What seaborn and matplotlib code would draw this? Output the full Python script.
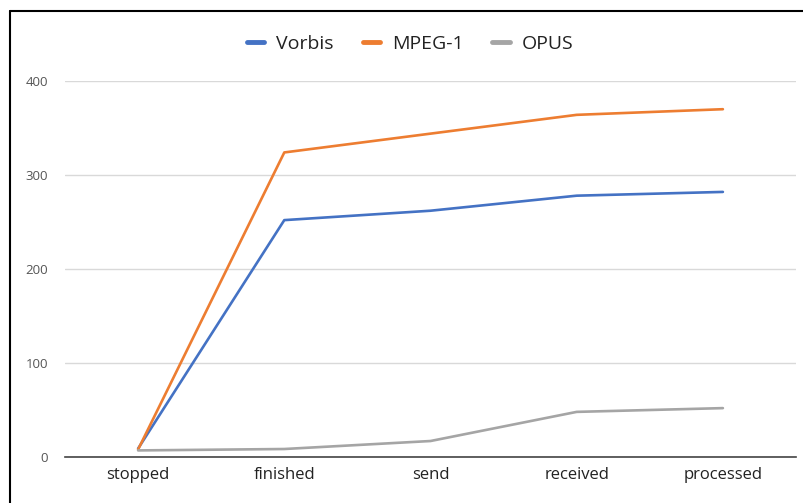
import pandas as pd
import seaborn as sns
import matplotlib
matplotlib.use('Agg')
import matplotlib.pyplot as plt
from matplotlib.lines import Line2D

# data
stages = ['stopped', 'finished', 'send', 'received', 'processed']
vorbis = [9, 252, 262, 278, 282]
mpeg1 = [8, 324, 344, 364, 370]
opus = [7, 8.5, 17, 48, 52]

series = ['Vorbis', 'MPEG-1', 'OPUS']
colors = ['#4472C4', '#ED7D31', '#A5A5A5']

rows = []
for name, vals in zip(series, [vorbis, mpeg1, opus]):
    for st, v in zip(stages, vals):
        rows.append({'stage': st, 'value': v, 'codec': name})
df = pd.DataFrame(rows)

sns.set_style('white')
plt.rcParams['font.family'] = ['Open Sans', 'DejaVu Sans']

fig = plt.figure(figsize=(8.04, 5.03), dpi=100)
ax = fig.add_axes([65 / 804, 1 - 457 / 503, 731 / 804, 376 / 503])

sns.lineplot(data=df, x='stage', y='value', hue='codec', hue_order=series,
             palette=colors, linewidth=1.9, sort=False, ax=ax, legend=False)

ax.set_xlim(-0.5, 4.5)
ax.set_ylim(0, 400)
ax.set_yticks([0, 100, 200, 300, 400])
ax.grid(axis='y', color='#d9d9d9', linewidth=1)
ax.set_axisbelow(True)
for s in ['top', 'right', 'left']:
    ax.spines[s].set_visible(False)
ax.spines['bottom'].set_color('#444444')
ax.spines['bottom'].set_linewidth(1.2)
ax.spines['bottom'].set_zorder(1)
ax.tick_params(axis='x', length=0, labelsize=12, labelcolor='#222222', pad=7)
ax.tick_params(axis='y', length=0, labelsize=9.5, labelcolor='#555555', pad=12)
ax.set_xlabel('')
ax.set_ylabel('')
for line in ax.lines:
    line.set_clip_on(False)

handles = [Line2D([0], [0], color=c, linewidth=3.5) for c in colors]
fig.legend(handles, series, loc='center', bbox_to_anchor=(410 / 804, 1 - 44 / 503),
           ncol=3, frameon=False, fontsize=14, handlelength=0.9,
           columnspacing=1.5, handletextpad=0.6, labelcolor='#222222')

# border on top and left
fig.add_artist(Line2D([10 / 804, 1], [1 - 11 / 503, 1 - 11 / 503], color='black', linewidth=1.5))
fig.add_artist(Line2D([10 / 804, 10 / 804], [0, 1 - 11 / 503], color='black', linewidth=1.5))

fig.savefig('out.png', dpi=100)
